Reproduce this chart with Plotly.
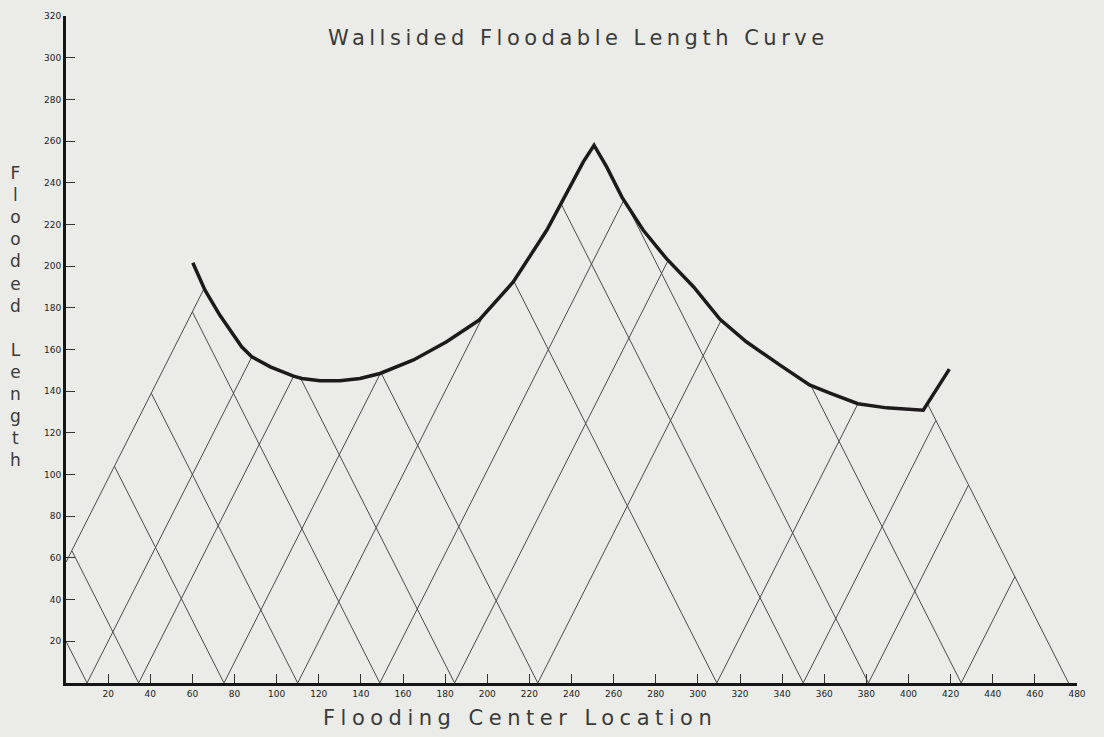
import plotly.graph_objects as go

# ---------------- data ----------------
# Floodable length curve (thick line)
curve_x = [60.2, 66, 73, 83.4, 88.2, 97, 108, 112, 120.6, 130, 139.6, 149.1, 165, 180.7, 196,
           212.4, 228.3, 234.6, 241, 245.6, 250.7, 256.7, 264, 274, 285, 298, 310.5, 323, 339,
           353, 363, 376, 389.6, 407, 419.4]
curve_y = [201.6, 188.5, 176.5, 161.3, 156.5, 151.7, 147.2, 146.1, 145, 145, 146.1, 148.5, 155, 163.7, 174,
           192.5, 217.3, 229.3, 241, 250, 258, 247.6, 233, 217.3, 203.7, 190, 174.5, 163.7, 152.5,
           143, 139, 134, 132, 130.9, 150.6]

# Lines rising to the right (start -> end)
up_right_x0 = [0, 10, 34.5, 75, 110, 149, 184.5, 224, 309, 350, 381, 425]
up_right_y0 = [58, 0, 0, 0, 0, 0, 0, 0, 0, 0, 0, 0]
up_right_x1 = [65.6, 88.2, 108.1, 149.3, 198.3, 265, 285.9, 311.1, 376, 413, 428.5, 450.5]
up_right_y1 = [189.3, 156.4, 147.2, 148.6, 176.6, 232, 202.8, 174.1, 134, 126, 95, 51]

# Lines rising to the left (start -> end)
up_left_x0 = [10, 34.5, 75, 110, 149, 184.5, 224, 309, 350, 381, 425, 476]
up_left_y0 = [0, 0, 0, 0, 0, 0, 0, 0, 0, 0, 0, 0]
up_left_x1 = [0, 2.75, 23, 40.5, 60, 111.4, 149.6, 212.6, 235, 265, 353.6, 409]
up_left_y1 = [20, 63.5, 104, 139, 178, 146.2, 148.7, 192.8, 230, 232, 142.8, 134]

x_ticks = list(range(20, 481, 20))
y_ticks = list(range(20, 321, 20))

title_text = "Wallsided Floodable Length Curve"
x_title = "Flooding Center Location"
y_title = "Flooded Length"

# ---------------- figure ----------------
bg = "#ebece8"
thin_color = "#4a4a4a"
thick_color = "#1d1a1a"

seg_x, seg_y = [], []
for x0, y0, x1, y1 in zip(up_right_x0, up_right_y0, up_right_x1, up_right_y1):
    seg_x += [x0, x1, None]
    seg_y += [y0, y1, None]
for x0, y0, x1, y1 in zip(up_left_x0, up_left_y0, up_left_x1, up_left_y1):
    seg_x += [x0, x1, None]
    seg_y += [y0, y1, None]

fig = go.Figure()
fig.add_trace(go.Scatter(x=seg_x, y=seg_y, mode="lines",
                         line=dict(color=thin_color, width=1), hoverinfo="skip"))
fig.add_trace(go.Scatter(x=curve_x, y=curve_y, mode="lines",
                         line=dict(color=thick_color, width=3.5), hoverinfo="skip"))

axis_font = dict(family="DejaVu Sans", size=9, color="#222")
fig.update_xaxes(range=[0, 480], showline=True, linecolor="#151515", linewidth=3,
                 ticks="inside", ticklen=9, tickwidth=1, tickcolor="#333",
                 tickvals=x_ticks, ticktext=[str(v) for v in x_ticks],
                 tickfont=axis_font, showgrid=False, zeroline=False)
fig.update_yaxes(range=[0, 320], showline=True, linecolor="#151515", linewidth=3,
                 ticks="inside", ticklen=9, tickwidth=1, tickcolor="#333",
                 tickvals=y_ticks, ticktext=[str(v) for v in y_ticks],
                 tickfont=axis_font, showgrid=False, zeroline=False)

label_font = dict(family="DejaVu Sans", color="#3a3a3a")
fig.add_annotation(text=title_text, xref="paper", yref="paper", x=0.507, y=0.967,
                   showarrow=False, xanchor="center", yanchor="middle",
                   font=dict(size=21, **label_font))
fig.add_annotation(text=x_title, xref="paper", yref="paper", x=0.449, y=-0.0525,
                   showarrow=False, xanchor="center", yanchor="middle",
                   font=dict(size=21, **label_font))
fig.add_annotation(text="<br>".join(list(y_title)), xref="paper", yref="paper",
                   x=-0.0495, y=0.55, showarrow=False, xanchor="center", yanchor="middle",
                   align="center", font=dict(size=17, **label_font))

fig.update_layout(width=1104, height=737, margin=dict(l=66, r=27, t=16, b=54),
                  paper_bgcolor=bg, plot_bgcolor=bg, showlegend=False)

post_js = """
document.body.style.margin = '0';
document.body.style.background = '%s';
var anns = document.querySelectorAll('.annotation-text');
if (anns.length >= 2) {
  anns[0].style.letterSpacing = '4.5px';
  anns[1].style.letterSpacing = '5.5px';
}
""" % bg

fig.write_html("out.html", post_script=post_js, config={"displayModeBar": False})
